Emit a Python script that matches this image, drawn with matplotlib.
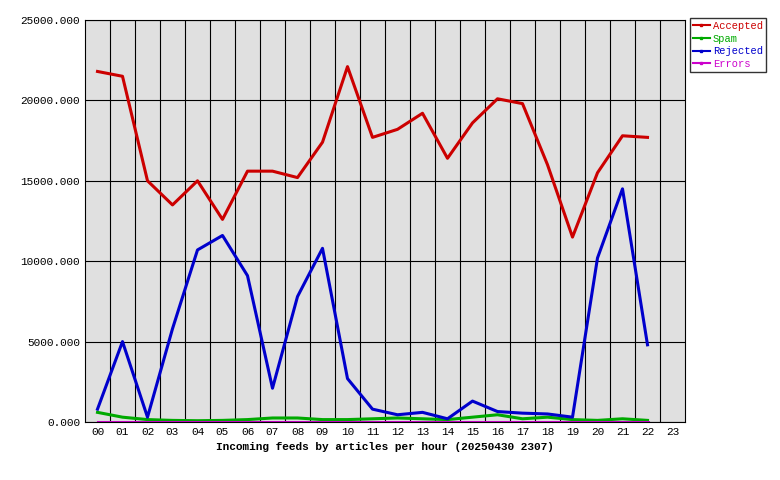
import matplotlib
matplotlib.use("Agg")
import matplotlib.pyplot as plt

hours = ["%02d" % h for h in range(24)]
accepted = [21800, 21500, 15000, 13500, 15000, 12600, 15600, 15600, 15200, 17400, 22100, 17700,
            18200, 19200, 16400, 18600, 20100, 19800, 16000, 11500, 15500, 17800, 17700]
spam = [600, 300, 150, 100, 80, 100, 150, 250, 250, 150, 150, 200,
        250, 200, 150, 300, 450, 200, 300, 150, 100, 200, 100]
rejected = [800, 5000, 300, 5800, 10700, 11600, 9100, 2100, 7800, 10800, 2700, 800,
            450, 600, 200, 1300, 650, 550, 500, 300, 10200, 14500, 4800]
errors = [20] * 23

plt.rcParams['font.family'] = 'Liberation Mono'
fig = plt.figure(figsize=(7.8, 4.8), dpi=100)
ax = fig.add_axes([85 / 780, 58 / 480, 600 / 780, 402 / 480])
ax.set_facecolor('#e0e0e0')

x = range(len(accepted))
series = [("Accepted", accepted, '#cc0000'), ("Spam", spam, '#00aa00'),
          ("Rejected", rejected, '#0000cc'), ("Errors", errors, '#cc00cc')]
for name, vals, col in series:
    ax.plot(x, vals, color=col, lw=2.2)

ax.set_xlim(-0.5, 23.5)
ax.set_ylim(0, 25000)
ax.set_xticks(range(24))
ax.set_xticklabels(hours, fontsize=8)
ax.set_xticks([i + 0.5 for i in range(23)], minor=True)
ax.set_yticks(range(0, 25001, 5000))
ax.set_yticklabels(["%d.000" % v for v in range(0, 25001, 5000)], fontsize=8)
ax.tick_params(which='both', length=0)
ax.grid(True, which='minor', axis='x', color='black', lw=0.8)
ax.grid(True, which='major', axis='y', color='black', lw=0.8)
ax.set_xlabel("Incoming feeds by articles per hour (20250430 2307)", fontsize=8, fontweight='bold')

handles = [plt.Line2D([], [], color=c, marker='s', markersize=2) for _, _, c in series]
leg = fig.legend(handles, [s[0] for s in series], loc='upper left', bbox_to_anchor=(690 / 780, 1 - 18 / 480),
                 fontsize=7.5, frameon=True, fancybox=False, edgecolor='black', handlelength=1.6,
                 borderpad=0.3, borderaxespad=0, labelspacing=0.25, handletextpad=0.3)
for t, (_, _, c) in zip(leg.get_texts(), series):
    t.set_color(c)

fig.savefig("out.png")
